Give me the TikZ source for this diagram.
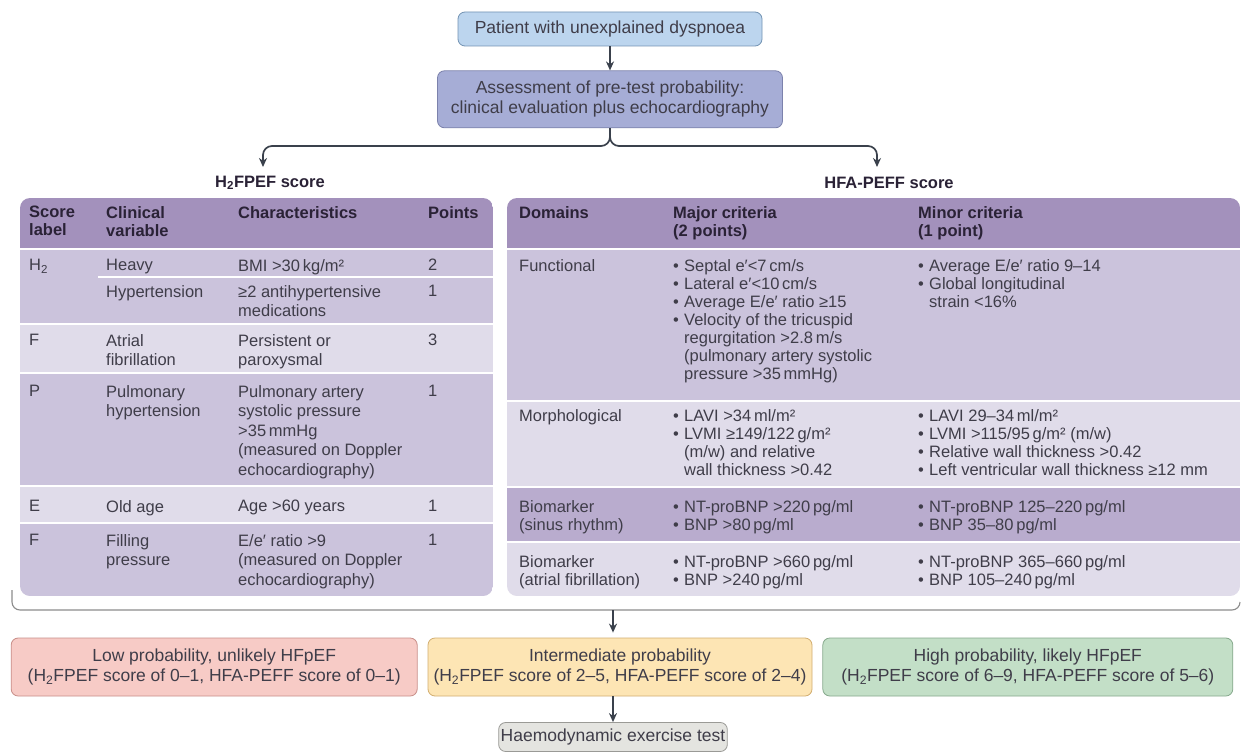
\documentclass[tikz,border=0pt]{standalone}
\usepackage{fontspec}
\setmainfont{Liberation Sans}
\usetikzlibrary{arrows.meta, positioning, calc}

\definecolor{bluebox}{HTML}{BCD5EE}
\definecolor{blueline}{HTML}{7393B3}
\definecolor{lilbox}{HTML}{A6ADD6}
\definecolor{lilline}{HTML}{7C82AC}
\definecolor{hdfill}{HTML}{A391BC}
\definecolor{rowmid}{HTML}{CBC3DC}
\definecolor{rowlt}{HTML}{E0DCEA}
\definecolor{rowdk}{HTML}{B9ACCE}
\definecolor{hdtxt}{HTML}{2A2236}
\definecolor{txt}{HTML}{3F3D49}
\definecolor{lowfill}{HTML}{F7CBC6}
\definecolor{lowline}{HTML}{C98F89}
\definecolor{midfill}{HTML}{FDE5B4}
\definecolor{midline}{HTML}{D2AE70}
\definecolor{highfill}{HTML}{C3DFC7}
\definecolor{highline}{HTML}{86A98C}
\definecolor{greyfill}{HTML}{E4E4E0}
\definecolor{greyline}{HTML}{9A9A96}
\definecolor{arrowc}{HTML}{3A414C}

\newcommand{\itm}{\makebox[11pt][l]{•}}
\newcommand{\cont}{\hspace*{11pt}}

\begin{document}
\begin{tikzpicture}[x=1pt, y=-1pt,
    pbox/.style={draw, rounded corners=7pt, align=center, text=txt, inner sep=4pt,
                 line width=0.8pt, font=\fontsize{17.5}{20}\selectfont},
    ttl/.style={font=\bfseries\fontsize{16.5}{18}\selectfont, text=hdtxt, inner sep=0pt},
    hd/.style={font=\bfseries\fontsize{16.5}{18}\selectfont, text=hdtxt, align=left,
               anchor=north west, inner sep=0pt},
    cell/.style={font=\fontsize{16.5}{18}\selectfont, text=txt, align=left,
                 anchor=north west, inner sep=0pt},
    lcell/.style={cell, font=\fontsize{16.5}{19.6}\selectfont},
    fl/.style={-{Stealth[length=9pt, width=8pt]}, line width=1.7pt, draw=arrowc},
    brk/.style={line width=1.1pt, draw=black!45}
  ]
    \fill[white] (0,0) rectangle (1242,752);
    \useasboundingbox (0,0) rectangle (1242,752);
    % ---- top of the flow ----
    \node[pbox, fill=bluebox, draw=blueline, minimum width=304pt, minimum height=34pt] (dysp) at (610,29)
      {Patient with unexplained dyspnoea};
    \node[pbox, fill=lilbox, draw=lilline, minimum width=345pt, minimum height=57pt, below=24pt of dysp] (pretest)
      {Assessment of pre-test probability:\\clinical evaluation plus echocardiography};
    \draw[fl] (dysp) -- (pretest);
    \coordinate (brc) at (610,146);
    \coordinate (lend) at (263,167);
    \coordinate (rend) at (877,167);
    \draw[fl, rounded corners=9pt] (pretest.south) |- (lend |- brc) -- (lend);
    \draw[fl, rounded corners=9pt] (pretest.south) |- (rend |- brc) -- (rend);
    \node[ttl] (h2title) at (270,183) {H\textsubscript{2}FPEF score};
    \node[ttl] (hfatitle) at (889,183) {HFA-PEFF score};
    % ---- H2FPEF table ----
    \begin{scope}
      \clip[rounded corners=10pt] (20,198) rectangle (493,596);
      \fill[hdfill] (20,198) rectangle (493,248);
      \foreach \ya/\yb/\rc in {250/323/rowmid, 325/372/rowlt, 374/485/rowmid, 487/522/rowlt, 524/596/rowmid}
        \fill[\rc] (20,\ya) rectangle (493,\yb);
      \draw[white, line width=2pt] (98,277) -- (493,277);
    \end{scope}
    \node[hd] (hscore) at (29,206) {Score\\label};
    \node[hd] (hvar) at (106,206) {Clinical\\variable};
    \node[hd] (hchar) at (238,206) {Characteristics};
    \node[hd] (hpts) at (428,206) {Points};
    \node[lcell] (lh) at (29,259) {H\textsubscript{2}};
    \node[lcell] (vheavy) at (106,259) {Heavy};
    \node[lcell] (cheavy) at (238,259) {BMI >30\,kg/m²};
    \node[lcell] (pheavy) at (428,259) {2};
    \node[lcell] (vhyp) at (106,285) {Hypertension};
    \node[lcell] (chyp) at (238,285) {≥2 antihypertensive\\medications};
    \node[lcell] (phyp) at (428,285) {1};
    \node[lcell] (lf) at (29,334) {F};
    \node[lcell] (vaf) at (106,334) {Atrial\\fibrillation};
    \node[lcell] (caf) at (238,334) {Persistent or\\paroxysmal};
    \node[lcell] (paf) at (428,334) {3};
    \node[lcell] (lp) at (29,385) {P};
    \node[lcell] (vph) at (106,385) {Pulmonary\\hypertension};
    \node[lcell] (cph) at (238,385) {Pulmonary artery\\systolic pressure\\>35\,mmHg\\(measured on Doppler\\echocardiography)};
    \node[lcell] (pph) at (428,385) {1};
    \node[lcell] (le) at (29,500) {E};
    \node[lcell] (vage) at (106,500) {Old age};
    \node[lcell] (cage) at (238,500) {Age >60 years};
    \node[lcell] (page) at (428,500) {1};
    \node[lcell] (lf2) at (29,534) {F};
    \node[lcell] (vfill) at (106,534) {Filling\\pressure};
    \node[lcell] (cfill) at (238,534) {E/e′ ratio >9\\(measured on Doppler\\echocardiography)};
    \node[lcell] (pfill) at (428,534) {1};
    % ---- HFA-PEFF table ----
    \begin{scope}
      \clip[rounded corners=10pt] (507,198) rectangle (1240,596);
      \fill[hdfill] (507,198) rectangle (1240,248);
      \foreach \ya/\yb/\rc in {250/400/rowmid, 402/486/rowlt, 488/541/rowdk, 543/596/rowlt}
        \fill[\rc] (507,\ya) rectangle (1240,\yb);
    \end{scope}
    \node[hd] (hdom) at (519,206) {Domains};
    \node[hd] (hmaj) at (673,206) {Major criteria\\(2 points)};
    \node[hd] (hmin) at (918,206) {Minor criteria\\(1 point)};
    \node[cell] (dfun) at (519,259) {Functional};
    \node[cell] (mjfun) at (673,259) {\itm Septal e′<7\,cm/s\\\itm Lateral e′<10\,cm/s\\\itm Average E/e′ ratio ≥15\\
      \itm Velocity of the tricuspid\\\cont regurgitation >2.8\,m/s\\\cont (pulmonary artery systolic\\\cont pressure >35\,mmHg)};
    \node[cell] (mnfun) at (918,259) {\itm Average E/e′ ratio 9–14\\\itm Global longitudinal\\\cont strain <16\%};
    \node[cell] (dmor) at (519,409) {Morphological};
    \node[cell] (mjmor) at (673,409) {\itm LAVI >34\,ml/m²\\\itm LVMI ≥149/122\,g/m²\\\cont (m/w) and relative\\\cont wall thickness >0.42};
    \node[cell] (mnmor) at (918,409) {\itm LAVI 29–34\,ml/m²\\\itm LVMI >115/95\,g/m² (m/w)\\\itm Relative wall thickness >0.42\\
      \itm Left ventricular wall thickness ≥12 mm};
    \node[cell] (dsin) at (519,500) {Biomarker\\(sinus rhythm)};
    \node[cell] (mjsin) at (673,500) {\itm NT-proBNP >220\,pg/ml\\\itm BNP >80\,pg/ml};
    \node[cell] (mnsin) at (918,500) {\itm NT-proBNP 125–220\,pg/ml\\\itm BNP 35–80\,pg/ml};
    \node[cell] (datf) at (519,555) {Biomarker\\(atrial fibrillation)};
    \node[cell] (mjatf) at (673,555) {\itm NT-proBNP >660\,pg/ml\\\itm BNP >240\,pg/ml};
    \node[cell] (mnatf) at (918,555) {\itm NT-proBNP 365–660\,pg/ml\\\itm BNP 105–240\,pg/ml};
    % ---- bracket and outcome ----
    \coordinate (bkl) at (12,590);
    \coordinate (bkr) at (1240,602);
    \coordinate (bkm) at (613,610);
    \draw[brk, rounded corners=8pt] (bkl) |- (bkr |- bkm) -- (bkr);
    \node[pbox, fill=midfill, draw=midline, minimum width=384pt, minimum height=58pt] (midprob) at (620,667)
      {Intermediate probability\\(H\textsubscript{2}FPEF score of 2–5, HFA-PEFF score of 2–4)};
    \node[pbox, fill=lowfill, draw=lowline, minimum width=406pt, minimum height=58pt, left=10pt of midprob] (lowprob)
      {Low probability, unlikely HFpEF\\(H\textsubscript{2}FPEF score of 0–1, HFA-PEFF score of 0–1)};
    \node[pbox, fill=highfill, draw=highline, minimum width=410pt, minimum height=58pt, right=10pt of midprob] (highprob)
      {High probability, likely HFpEF\\(H\textsubscript{2}FPEF score of 6–9, HFA-PEFF score of 5–6)};
    \node[pbox, fill=greyfill, draw=greyline, minimum width=227pt, minimum height=29pt, inner sep=2pt] (exer) at (613,737)
      {Haemodynamic exercise test};
    \draw[fl, shorten >=5pt] (bkm) -- (bkm |- midprob.north);
    \draw[fl] (midprob.south -| exer.north) -- (exer);
  \end{tikzpicture}
\end{document}
